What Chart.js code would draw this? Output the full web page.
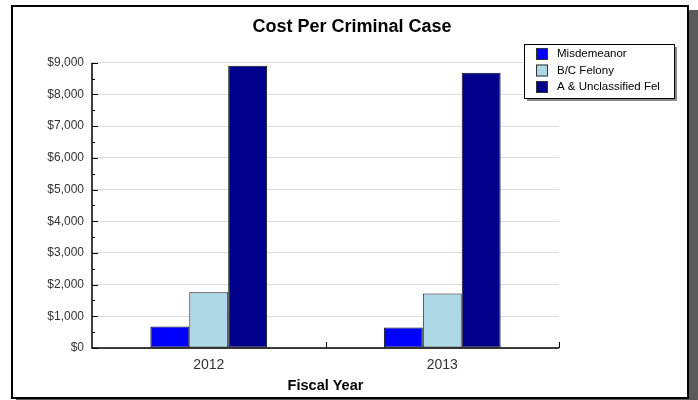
<!DOCTYPE html>
<html>
<head>
<meta charset="utf-8">
<script src="https://cdn.jsdelivr.net/npm/chart.js@4/dist/chart.umd.min.js"></script>
<style>
  html, body { margin: 0; padding: 0; background: #ffffff; }
  #wrap { width: 698px; height: 400px; position: relative; }
</style>
</head>
<body>
<div id="wrap"><canvas id="c" width="698" height="400"></canvas></div>
<script>
// Fiscal years on the x axis
const categories = ['2012', '2013'];
// Cost per case, in dollars, for each case type
const misdemeanor = [680, 650];
const bcFelony = [1760, 1720];
const aUnclassifiedFel = [8900, 8680];
const seriesLabels = ['Misdemeanor', 'B/C Felony', 'A & Unclassified Fel'];
const seriesColors = ['#0000ff', '#add8e6', '#00008b'];
// Y axis range and step
const yMin = 0, yMax = 9000, yStep = 1000;
const chartTitle = 'Cost Per Criminal Case';

const FONT = '"Liberation Sans", Arial, sans-serif';

// Frame with drop shadow, drawn behind everything
const framePlugin = {
  id: 'frame',
  beforeDraw(chart) {
    const ctx = chart.ctx;
    ctx.save();
    ctx.fillStyle = '#ffffff';
    ctx.fillRect(0, 0, chart.width, chart.height);
    ctx.fillStyle = '#5a5a5a';
    ctx.fillRect(688, 10, 10, 390);
    ctx.fillRect(16, 398, 682, 2);
    ctx.strokeStyle = '#000000';
    ctx.lineWidth = 2;
    ctx.strokeRect(12, 6, 676, 392);
    // title, centred on the frame
    ctx.fillStyle = '#000000';
    ctx.font = 'bold 18px ' + FONT;
    ctx.textAlign = 'center';
    ctx.textBaseline = 'middle';
    ctx.fillText(chartTitle, 352, 27);
    ctx.restore();
  }
};

// Inside tick marks on both axes, placed through the scales
const ticksPlugin = {
  id: 'innerTicks',
  afterDatasetsDraw(chart) {
    const ctx = chart.ctx;
    const y = chart.scales.y, x = chart.scales.x;
    const area = chart.chartArea;
    ctx.save();
    ctx.strokeStyle = '#000000';
    ctx.lineWidth = 1;
    ctx.beginPath();
    for (let v = yMin; v <= yMax; v += yStep / 2) {
      const py = Math.round(y.getPixelForValue(v)) + 0.5;
      const len = (v % yStep === 0) ? 6 : 3;
      ctx.moveTo(area.left, py);
      ctx.lineTo(area.left + len, py);
    }
    // category boundaries on the x axis
    const n = categories.length;
    for (let i = 1; i <= n; i++) {
      const px = Math.round(x.getPixelForValue(i - 0.5)) + 0.5;
      ctx.moveTo(px, area.bottom);
      ctx.lineTo(px, area.bottom - 6);
    }
    ctx.stroke();
    // axis lines
    ctx.lineWidth = 1.5;
    ctx.beginPath();
    ctx.moveTo(area.left, area.top);
    ctx.lineTo(area.left, area.bottom);
    ctx.lineTo(area.right, area.bottom);
    ctx.stroke();
    ctx.restore();
  }
};

// Boxed legend with shadow in the upper right
const legendPlugin = {
  id: 'boxLegend',
  afterDraw(chart) {
    const ctx = chart.ctx;
    const bx = 524, by = 44, bw = 150, bh = 54;
    ctx.save();
    ctx.fillStyle = '#8a8a8a';
    ctx.fillRect(bx + 3, by + 3, bw, bh);
    ctx.fillStyle = '#ffffff';
    ctx.fillRect(bx, by, bw, bh);
    ctx.strokeStyle = '#000000';
    ctx.lineWidth = 1;
    ctx.strokeRect(bx + 0.5, by + 0.5, bw, bh);
    ctx.font = '11.5px ' + FONT;
    ctx.textBaseline = 'middle';
    chart.data.datasets.forEach((ds, i) => {
      const cy = by + 10 + i * 16.5;
      ctx.fillStyle = ds.backgroundColor;
      ctx.fillRect(bx + 12, cy - 6, 12, 12);
      ctx.strokeStyle = '#333333';
      ctx.strokeRect(bx + 12.5, cy - 5.5, 11, 11);
      ctx.fillStyle = '#000000';
      ctx.fillText(ds.label, bx + 33, cy);
    });
    ctx.restore();
  }
};

const seriesValues = [misdemeanor, bcFelony, aUnclassifiedFel];

new Chart(document.getElementById('c'), {
  type: 'bar',
  data: {
    labels: categories,
    datasets: seriesValues.map((vals, i) => ({
      label: seriesLabels[i],
      data: vals,
      backgroundColor: seriesColors[i],
      borderColor: '#111111',
      borderWidth: 1,
      borderSkipped: false,
      categoryPercentage: 0.5,
      barPercentage: 1.0
    }))
  },
  options: {
    responsive: false,
    animation: false,
    devicePixelRatio: 1,
    layout: { padding: { left: 0, right: 139, top: 62.7, bottom: 5 } },
    plugins: {
      legend: { display: false },
      tooltip: { enabled: false },
      title: { display: false }
    },
    scales: {
      x: {
        grid: { display: false, drawTicks: false },
        border: { display: false },
        ticks: { color: '#333333', font: { family: FONT, size: 14 }, padding: 9 },
        title: {
          display: true,
          text: 'Fiscal Year',
          color: '#000000',
          font: { family: FONT, size: 14.5, weight: 'bold' },
          padding: { top: 4, bottom: 0 }
        },
        afterFit(scale) { scale.height = 47; }
      },
      y: {
        min: yMin,
        max: yMax,
        grid: { color: '#dcdcdc', drawTicks: false, lineWidth: 1 },
        border: { display: false },
        ticks: {
          stepSize: yStep,
          color: '#333333',
          font: { family: FONT, size: 12 },
          padding: 8,
          callback: v => '$' + v.toLocaleString('en-US')
        },
        afterFit(scale) { scale.width = 92; }
      }
    }
  },
  plugins: [framePlugin, ticksPlugin, legendPlugin]
});
</script>
</body>
</html>
